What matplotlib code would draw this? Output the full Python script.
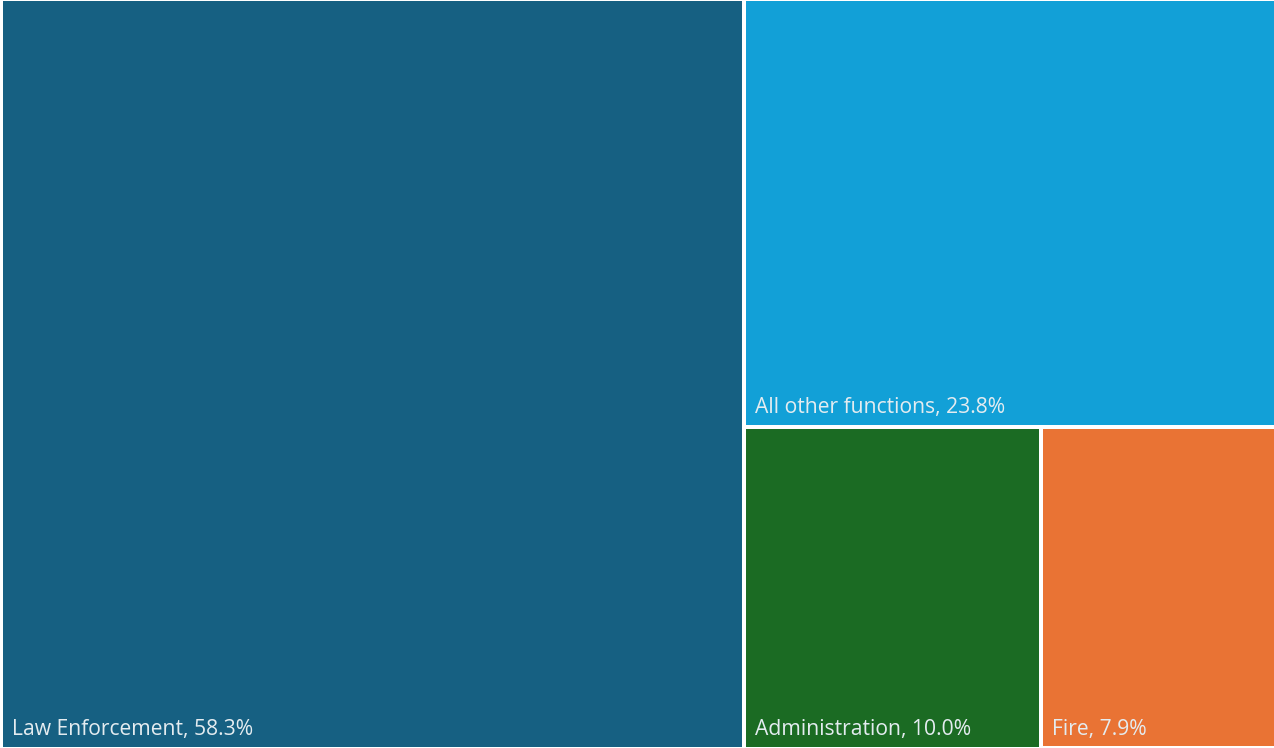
import matplotlib
matplotlib.use("Agg")
import matplotlib.pyplot as plt
from matplotlib.patches import Rectangle

labels = ["Law Enforcement", "All other functions", "Administration", "Fire"]
shares = [58.3, 23.8, 10.0, 7.9]
colors = ["#166082", "#12a0d7", "#1b6b23", "#e97334"]
text_color = "#e4ecf0"

W, H = 1274, 748


def worst(row, side):
    s = sum(row)
    return max(max(side * side * r / (s * s), (s * s) / (side * side * r)) for r in row)


def squarify(values, x, y, w, h):
    total = sum(values)
    areas = [v * w * h / total for v in values]
    rects = []
    while areas:
        side = min(w, h)
        row = [areas[0]]
        i = 1
        while i < len(areas) and worst(row + [areas[i]], side) <= worst(row, side):
            row.append(areas[i])
            i += 1
        s = sum(row)
        if w >= h:
            cw = s / h
            cy = y
            for a in row:
                rh = a / cw
                rects.append((x, cy, cw, rh))
                cy += rh
            x += cw
            w -= cw
        else:
            rh = s / w
            cx = x
            for a in row:
                rw = a / rh
                rects.append((cx, y, rw, rh))
                cx += rw
            y += rh
            h -= rh
        areas = areas[i:]
    return rects


fig = plt.figure(figsize=(W / 100, H / 100), dpi=100)
ax = fig.add_axes([0, 0, 1, 1])
ax.set_xlim(0, W)
ax.set_ylim(H, 0)
ax.axis("off")

gap = 2.0
rects = squarify(shares, 1.0, -1.0, 1275.5 - 1.0, H + 1.5)
for (rx, ry, rw, rh), lab, val, col in zip(rects, labels, shares, colors):
    ax.add_patch(Rectangle((rx + gap, ry + gap), rw - 2 * gap, rh - 2 * gap,
                           facecolor=col, edgecolor="none"))
    ax.text(rx + gap + 9, ry + rh - gap - 6.5, f"{lab}, {val:.1f}%",
            color=text_color, fontsize=15.2, family=["Open Sans", "DejaVu Sans"],
            ha="left", va="bottom")

fig.savefig("out.png", dpi=100)
